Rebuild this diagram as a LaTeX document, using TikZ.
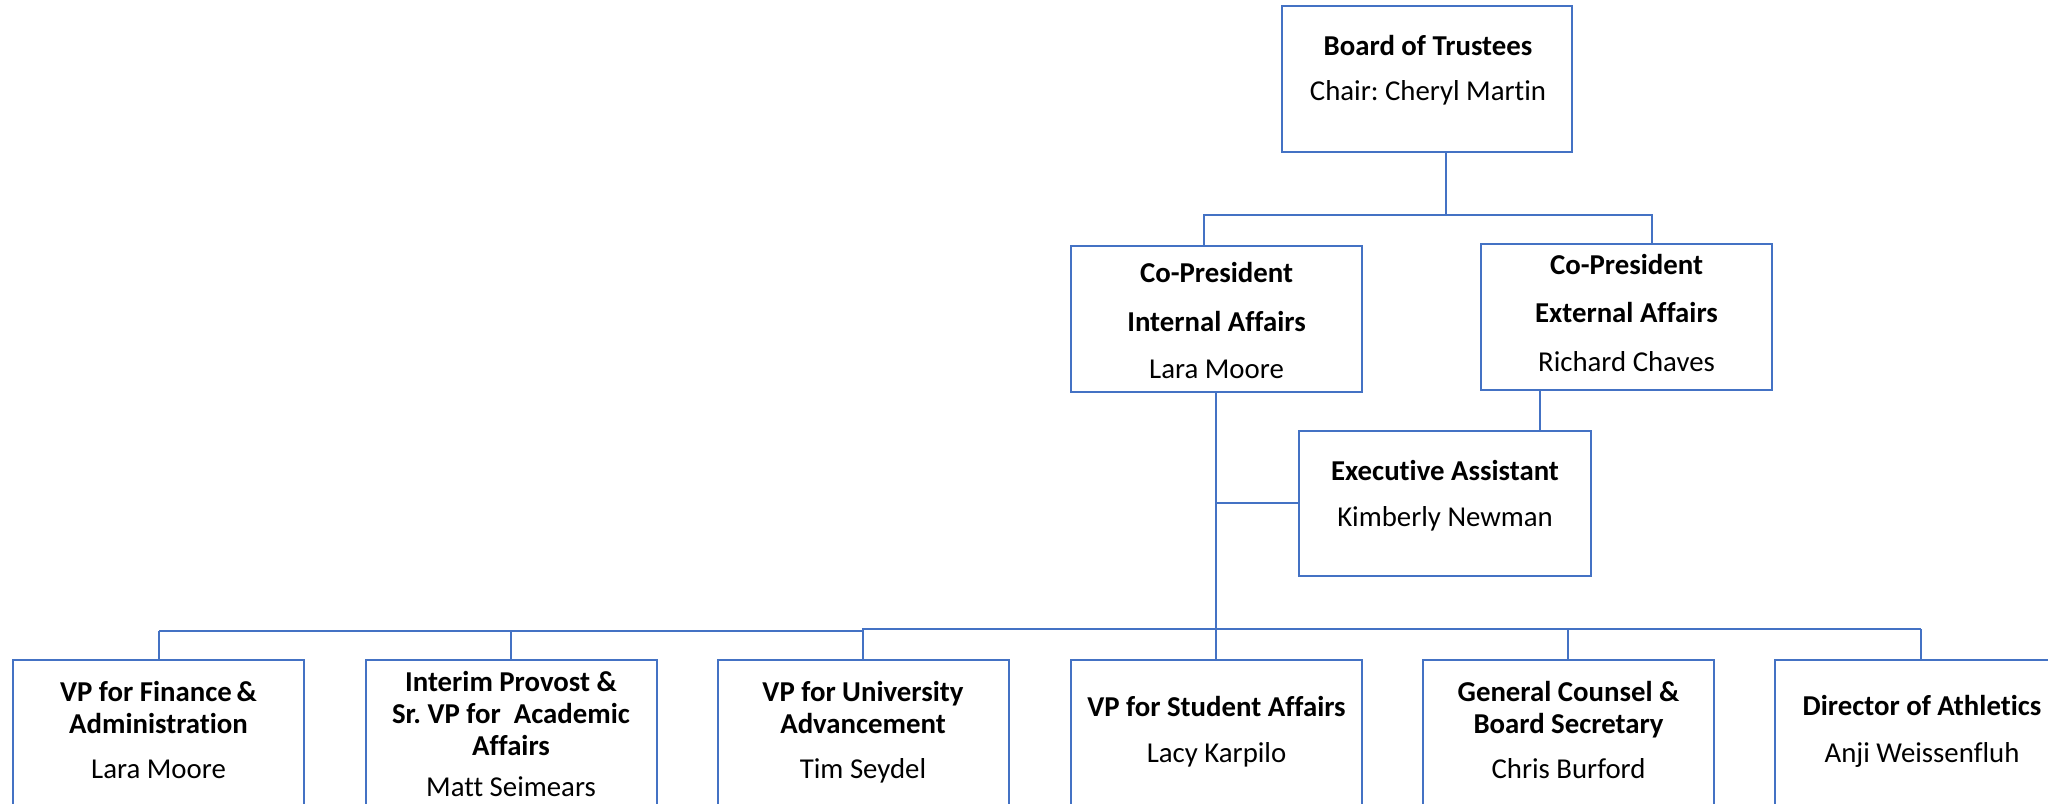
\documentclass[tikz,border=0pt]{standalone}
\usepackage{fontspec}
\setmainfont{Carlito}[Ligatures={NoCommon,NoRare,NoContextual}]
\definecolor{obl}{HTML}{4472C4}
\def\u{0.5pt}
\tikzset{
  box/.style={draw=obl, line width=1pt, fill=white, inner sep=0pt, rectangle},
  conn/.style={draw=obl, line width=0.7pt},
  trunk/.style={draw=obl, line width=1.35pt},
  bt/.style={anchor=base, inner sep=0pt, font=\fontsize{14.4}{17}\selectfont\bfseries},
  nt/.style={anchor=base, inner sep=0pt, font=\fontsize{14.4}{17}\selectfont},
}
\frenchspacing
\begin{document}
\begin{tikzpicture}[x=0.5pt,y=-0.5pt]
\useasboundingbox (0,0) rectangle (2048,803);
\clip (0,0) rectangle (2048,803);
% boxes
\node[box, minimum width=290*\u, minimum height=146*\u] (board) at (1427,79) {};
\node[box, minimum width=291*\u, minimum height=146*\u] (intp) at (1216.5,319) {};
\node[box, minimum width=291*\u, minimum height=146*\u] (extp) at (1626.5,317) {};
\node[box, minimum width=292*\u, minimum height=145*\u] (exec) at (1445,503.5) {};
\foreach \n/\cx in {b1/158.5, b2/511, b3/863, b4/1216.5, b5/1568.5, b6/1920.5}{
  \node[box, minimum width=291*\u, minimum height=200*\u] (\n) at (\cx,760) {};
}
% connector coordinates
\coordinate (bd) at (1446,152);
\coordinate (bus1) at (1446,215);
\coordinate (busL) at (1204,215);
\coordinate (busR) at (1652,215);
\coordinate (intTop) at (1204,246);
\coordinate (extTop) at (1652,244);
\coordinate (extBot) at (1540,390);
\coordinate (execTop) at (1540,430);
\coordinate (intBot) at (1216,392);
\coordinate (side) at (1216,503);
\coordinate (execL) at (1299,503);
\coordinate (bjoin) at (1216,629);
\coordinate (bL) at (159,631);
\coordinate (bS) at (863,631);
\coordinate (bS2) at (863,629);
\coordinate (bR) at (1921,629);
% connectors
\draw[conn] (bd) -- (bus1);
\draw[conn] (intTop) -- (busL) -- (busR) -- (extTop);
\draw[conn] (extBot) -- (execTop);
\draw[trunk] (intBot) -- (bjoin);
\draw[conn] (side) -- (execL);
\draw[conn] (bL) -- (bS) -- (bS2) -- (bR);
\draw[conn] (bL) -- (b1.north -| bL);
\draw[conn] (511,631) -- (b2.north);
\draw[conn] (bS2) -- (b3.north);
\draw[conn] (bjoin) -- (b4.north -| bjoin);
\draw[conn] (1568,629) -- (b5.north -| 1568,0);
\draw[conn] (bR) -- (b6.north -| bR);
% texts
\node[bt] (t1) at (1428,55) {Board of Trustees};
\node[nt] (t2) at (1428,100) {Chair: Cheryl Martin};
\node[bt] (t3) at (1216.5,282) {Co-President};
\node[bt] (t4) at (1216.5,331) {Internal Affairs};
\node[nt] (t5) at (1216.5,378) {Lara Moore};
\node[bt] (t6) at (1626.5,274) {Co-President};
\node[bt] (t7) at (1626.5,322) {External Affairs};
\node[nt] (t8) at (1626.5,371) {Richard Chaves};
\node[bt] (t9) at (1445,480) {Executive Assistant};
\node[nt] (t10) at (1445,526) {Kimberly Newman};
\node[bt] (t11) at (158.5,701) {VP for Finance\,\&};
\node[bt] (t12) at (158.5,733) {Administration};
\node[nt] (t13) at (158.5,778) {Lara Moore};
\node[bt] (t14) at (511,691) {Interim Provost \&};
\node[bt] (t15) at (511,723) {Sr. VP for\ \ Academic};
\node[bt] (t16) at (511,755) {Affairs};
\node[nt] (t17) at (511,796) {Matt Seimears};
\node[bt] (t18) at (863,701) {VP for University};
\node[bt] (t19) at (863,733) {Advancement};
\node[nt] (t20) at (863,778) {Tim Seydel};
\node[bt] (t21) at (1216.5,716) {VP for Student Affairs};
\node[nt] (t22) at (1216.5,762) {Lacy Karpilo};
\node[bt] (t23) at (1568.5,701) {General Counsel \&};
\node[bt] (t24) at (1568.5,733) {Board Secretary};
\node[nt] (t25) at (1568.5,778) {Chris Burford};
\node[bt] (t26) at (1922,715) {Director of Athletics};
\node[nt] (t27) at (1922,762) {Anji Weissenfluh};
\end{tikzpicture}
\end{document}
